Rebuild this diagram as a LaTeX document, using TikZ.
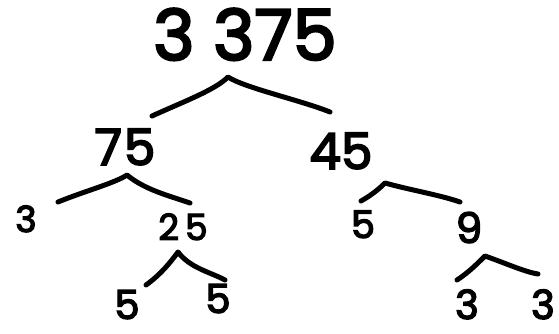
\documentclass[tikz,border=0pt]{standalone}
\usepackage{fontspec}
\newfontfamily\numfont{Poppins}[FakeBold=3.5]
\begin{document}
\begin{tikzpicture}[x=1pt,y=-1pt,
  num/.style={inner sep=0pt, anchor=base, font=\numfont\fontsize{#1}{#1}\selectfont},
  branch/.style={line width=5pt, line cap=round, line join=round}]
\useasboundingbox (0,0) rectangle (559,334);
% numbers, placed by their baselines
\node[num=70] (n3375) at (245,60) {3 375};
\node[num=50] (n75) at (125,165) {7\kern2pt5};
\node[num=50] (n45) at (341,169) {45};
\node[num=36] (n3a) at (26,232) {3};
\node[num=36] (n25) at (183,240) {2\kern6pt5};
\node[num=38] (n5a) at (363,238) {5};
\node[num=42] (n9) at (469,243) {9};
\node[num=40] (n5b) at (127,319) {5};
\node[num=40] (n5c) at (218,313) {5};
\node[num=40] (n3b) at (467,319) {3};
\node[num=40] (n3c) at (543,319) {3};
% branch points
\coordinate (a1) at (228,77);
\coordinate (l1) at (152,116);
\coordinate (r1) at (330,112);
\coordinate (a2) at (127,175);
\coordinate (l2) at (58,202);
\coordinate (r2) at (190,203);
\coordinate (a3) at (385,183);
\coordinate (l3) at (361,201);
\coordinate (r3) at (460,202);
\coordinate (a4) at (178,252);
\coordinate (l4) at (146,285);
\coordinate (r4) at (225,280);
\coordinate (a5) at (485,256);
\coordinate (l5) at (457,280);
\coordinate (r5) at (538,274);
% branches
\draw[branch] (l1) .. controls (185,101) and (215,90) .. (a1) .. controls (245,88) and (300,100) .. (r1);
\draw[branch] (l2) .. controls (85,191) and (115,183) .. (a2) .. controls (145,190) and (170,196) .. (r2);
\draw[branch] (l3) .. controls (370,196) and (378,190) .. (a3) .. controls (410,190) and (440,195) .. (r3);
\draw[branch] (l4) .. controls (160,275) and (170,263) .. (a4) .. controls (190,268) and (210,272) .. (r4);
\draw[branch] (l5) .. controls (468,273) and (478,263) .. (a5) .. controls (505,263) and (525,272) .. (r5);
\end{tikzpicture}
\end{document}
